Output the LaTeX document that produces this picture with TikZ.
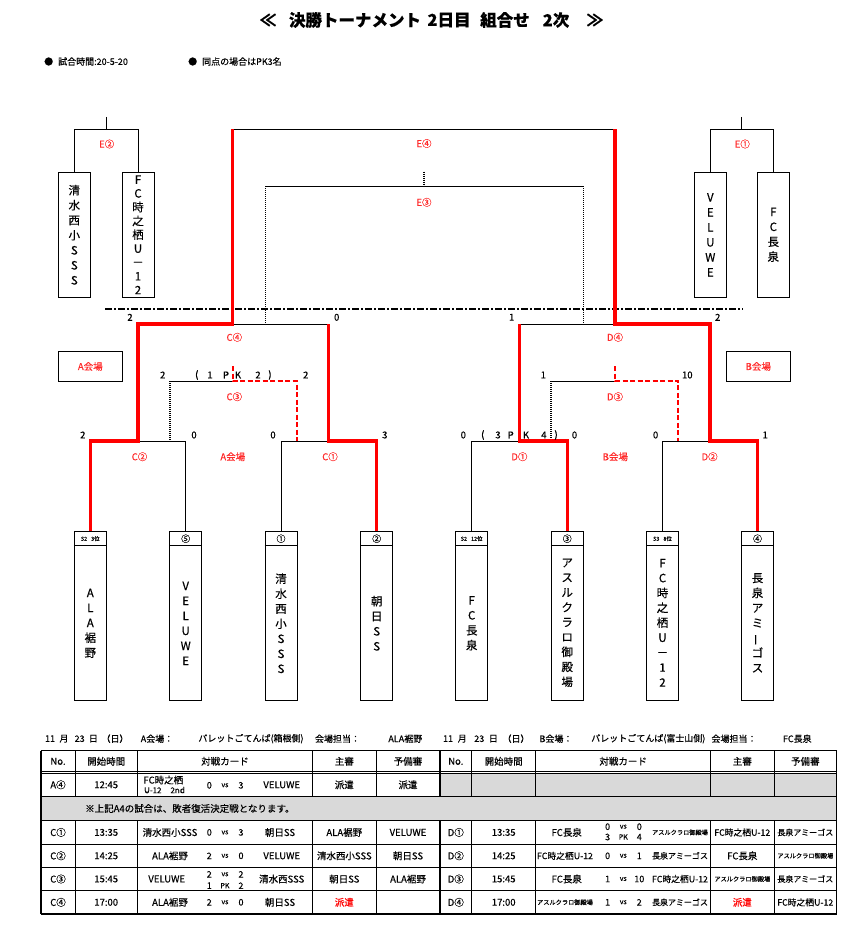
\documentclass[tikz,border=0pt]{standalone}
\usepackage{fontspec}
\setmainfont{Noto Sans CJK JP}[FakeBold=0.35]
\usepackage{graphicx}
\newcounter{nd}
\newcommand{\fsz}[2]{\fontsize{#1}{#2}\selectfont}
\newcommand{\T}[3][]{\stepcounter{nd}\node[txt,#1] (n\arabic{nd}) at (#2) {#3};}
\newcommand{\VS}[5]{\T[numf]{#1-15.7,#2}{#3}\T[vsf]{#1,#2}{#4}\T[numf]{#1+16,#2}{#5}}
\definecolor{cellgray}{HTML}{D9D9D9}
\definecolor{lblred}{HTML}{FF2A2A}
\tikzset{
 txt/.style={inner sep=0pt, font=\fsz{9.5}{10}},
 numf/.style={font=\fsz{9}{10}},
 vsf/.style={font=\fsz{7}{8}},
 mid/.style={font=\fsz{8.8}{10}},
 small/.style={font=\fsz{8}{9}},
 tiny/.style={font=\fsz{6.2}{7}},
 thinl/.style={draw=black, line width=0.8pt},
 redl/.style={draw=red, line width=3.4pt, line join=miter},
 redd/.style={draw=red, line width=1.8pt, dash pattern=on 5pt off 2.5pt},
 dotl/.style={draw=black, line width=1.4pt, dash pattern=on 1pt off 1pt},
 dashdotl/.style={draw=black, line width=1.8pt, dash pattern=on 7pt off 2pt on 2pt off 2pt},
 lbl/.style={txt, text=lblred, font=\fsz{9.5}{10}},
 sc/.style={txt, font=\fsz{9.5}{10}},
 tbox/.style={draw, line width=0.9pt, inner sep=0pt, minimum width=32pt, minimum height=125pt, align=center, font=\fsz{11.5}{15}},
 bbox/.style={draw, line width=0.9pt, inner sep=0pt, minimum width=32pt, minimum height=169.3pt},
 vtext/.style={inner sep=0pt, align=center, font=\fsz{11.5}{15}},
 hdr/.style={inner sep=0pt, font=\fsz{9}{9}},
 hdrs/.style={inner sep=0pt, font=\fsz{5.5}{6}},
 venue/.style={draw, line width=0.9pt, minimum width=64pt, minimum height=29.3pt, inner sep=0pt, text=lblred, font=\fsz{9.5}{10}},
 thinrule/.style={draw=black, line width=0.6pt},
 thickrule/.style={draw=black, line width=1.4pt},
 ttlf/.style={txt, font=\fsz{16.5}{17}\bfseries},
 headf/.style={txt, font=\fsz{9}{10}},
}
\begin{document}
\begin{tikzpicture}[x=1pt,y=-1pt]
\useasboundingbox (0,0) rectangle (863,928);
\fill[white] (0,0) rectangle (863,928);

% ---------- title and notes
\node[ttlf] (ttl1) at (268,20) {≪};
\node[ttlf] (ttl2) at (355,20) {決勝トーナメント};
\node[ttlf] (ttl3) at (449,20) {2日目};
\node[ttlf] (ttl4) at (505,20) {組合せ};
\node[ttlf] (ttl5) at (556,20) {2次};
\node[ttlf] (ttl6) at (595,20) {≫};
\node[txt, anchor=west, font=\fsz{9}{9}] (note1) at (44,61.5) {●\hspace{5pt}試合時間:20-5-20};
\node[txt, anchor=west, font=\fsz{9}{9}] (note2) at (188,61.5) {●\hspace{5pt}同点の場合はPK3名};

% ---------- top boxes
\node[tbox] (t1) at (74.3,234.8) {清\\水\\西\\小\\S\\S\\S};
\node[tbox, font=\fsz{11.5}{13.8}] (t2) at (138,234.8) {F\\C\\時\\之\\栖\\U\\－\\1\\2};
\node[tbox] (t3) at (710.3,234.8) {V\\E\\L\\U\\W\\E};
\node[tbox] (t4) at (773.3,234.8) {F\\C\\長\\泉};

% ---------- bottom boxes
\foreach \nm/\x in {b1/90.3,b2/185.7,b3/281,b4/376.7,b5/471.7,b6/567.2,b7/662.5,b8/757.5}{
  \node[bbox] (\nm) at (\x,615.65) {};
  \draw[line width=0.9pt] ([yshift=-15.3pt]\nm.north west) -- ([yshift=-15.3pt]\nm.north east);
}
\node[hdrs] (h1) at (90.3,538.7) {S2\hspace{4pt}3位};
\node[hdr] (h2) at (185.7,538.7) {⑤};
\node[hdr] (h3) at (281,538.7) {①};
\node[hdr] (h4) at (376.7,538.7) {②};
\node[hdrs] (h5) at (471.7,538.7) {S2\hspace{4pt}12位};
\node[hdr] (h6) at (567.2,538.7) {③};
\node[hdrs] (h7) at (662.5,538.7) {S3\hspace{4pt}8位};
\node[hdr] (h8) at (757.5,538.7) {④};
\node[vtext] (v1) at (90.3,623.3) {A\\L\\A\\裾\\野};
\node[vtext] (v2) at (185.7,623.3) {V\\E\\L\\U\\W\\E};
\node[vtext] (v3) at (281,623.3) {清\\水\\西\\小\\S\\S\\S};
\node[vtext] (v4) at (376.7,623.3) {朝\\日\\S\\S};
\node[vtext] (v5) at (471.7,623.3) {F\\C\\長\\泉};
\node[vtext, font=\fsz{11.5}{14.9}] (v6) at (567.2,622.8) {ア\\ス\\ル\\ク\\ラ\\ロ\\御\\殿\\場};
\node[vtext, font=\fsz{11.5}{14.9}] (v7) at (662.5,622.8) {F\\C\\時\\之\\栖\\U\\－\\1\\2};
\node[vtext] (v8) at (757.5,622.8) {長\\泉\\ア\\ミ\\\rotatebox[origin=c]{90}{ー}\\ゴ\\ス};

% ---------- venue boxes
\node[venue] (va) at (90.3,366.4) {A会場};
\node[venue] (vb) at (758.3,366.4) {B会場};

% ---------- bracket coordinates
\coordinate (e2s) at (106.7,117);
\coordinate (e2m) at (106.7,129.3);
\coordinate (e2l) at (74.3,129.3);
\coordinate (e2r) at (138,129.3);
\coordinate (e1s) at (741.5,117);
\coordinate (e1m) at (741.5,129.3);
\coordinate (e1l) at (710.3,129.3);
\coordinate (e1r) at (773.3,129.3);
\coordinate (e4l) at (232.7,129.3);
\coordinate (e4r) at (615,129.3);
\coordinate (e3s) at (424,171.7);
\coordinate (e3m) at (424,186.3);
\coordinate (e3l) at (265.3,186.3);
\coordinate (e3r) at (583.3,186.3);
\coordinate (e3lb) at (265.3,324);
\coordinate (e3rb) at (583.3,324);
\coordinate (ddl) at (105,309);
\coordinate (ddr) at (743.3,309);
\coordinate (c4l) at (138,324);
\coordinate (c4m) at (232.7,324);
\coordinate (c4r) at (328.7,324);
\coordinate (d4l) at (519.4,324);
\coordinate (d4m) at (615,324);
\coordinate (d4r) at (710,324);
\coordinate (c3s) at (232.7,366);
\coordinate (c3m) at (232.7,381);
\coordinate (c3l) at (170,381);
\coordinate (c3r) at (296.6,381);
\coordinate (c3lb) at (170,441);
\coordinate (c3rb) at (296.6,441);
\coordinate (d3s) at (615,366);
\coordinate (d3m) at (615,381);
\coordinate (d3l) at (551,381);
\coordinate (d3r) at (678.2,381);
\coordinate (d3lb) at (551,441);
\coordinate (d3rb) at (678.2,441);
\coordinate (c2l) at (90.3,441);
\coordinate (c2m) at (138,441);
\coordinate (c2r) at (185.7,441);
\coordinate (c1l) at (281,441);
\coordinate (c1m) at (328.7,441);
\coordinate (c1r) at (376.7,441);
\coordinate (d1l) at (471.7,441);
\coordinate (d1m) at (519.4,441);
\coordinate (d1r) at (567.2,441);
\coordinate (d2l) at (662.5,441);
\coordinate (d2m) at (710,441);
\coordinate (d2r) at (757.5,441);

% ---------- black bracket lines
\draw[thinl] (e2s) -- (e2m);
\draw[thinl] (t1.north) -- (e2l) -- (e2r) -- (t2.north);
\draw[thinl] (e1s) -- (e1m);
\draw[thinl] (t3.north) -- (e1l) -- (e1r) -- (t4.north);
\draw[thinl] (e4l) -- (e4r);
\draw[thinl] (e3l) -- (e3r);
\draw[thinl] (c4m) -- (c4r);
\draw[thinl] (d4l) -- (d4m);
\draw[thinl] (c3l) -- (c3m);
\draw[thinl] (d3l) -- (d3m);
\draw[thinl] (c2m) -- (c2r) -- (b2.north);
\draw[thinl] (b3.north) -- (c1l) -- (c1m);
\draw[thinl] (b5.north) -- (d1l) -- (d1m);
\draw[thinl] (b7.north) -- (d2l) -- (d2m);
\draw[dashdotl] (ddl) -- (ddr);
\draw[dotl] (e3s) -- (e3m);
\draw[dotl] (e3l) -- (e3lb);
\draw[dotl] (e3r) -- (e3rb);
\draw[dotl] (c3l) -- (c3lb);
\draw[dotl] (d3l) -- (d3lb);

% ---------- red lines
\draw[redd] (c3s) -- (c3m) -- (c3r) -- (c3rb);
\draw[redd] (d3s) -- (d3m) -- (d3r) -- (d3rb);
\draw[redl] (b1.north) -- (c2l) -- (c2m) -- (c4l) -- (c4m) -- (e4l);
\draw[redl] (b4.north) -- (c1r) -- (c1m) -- (c4r);
\draw[redl] (b6.north) -- (d1r) -- (d1m) -- (d4l);
\draw[redl] (b8.north) -- (d2r) -- (d2m) -- (d4r) -- (d4m) -- (e4r);

% ---------- match labels
\node[lbl] (le2) at (106.7,144) {E②};
\node[lbl] (le1) at (742.3,144) {E①};
\node[lbl] (le4) at (424,143.5) {E④};
\node[lbl] (le3) at (424,202.3) {E③};
\node[lbl] (lc4) at (234.3,337.3) {C④};
\node[lbl] (ld4) at (615,337.3) {D④};
\node[lbl] (lc3) at (234.3,396.7) {C③};
\node[lbl] (ld3) at (615,396.7) {D③};
\node[lbl] (lc2) at (139.5,456.7) {C②};
\node[lbl] (lc1) at (330,456.7) {C①};
\node[lbl] (ld1) at (519.4,456.7) {D①};
\node[lbl] (ld2) at (709.6,456.7) {D②};
\node[lbl] (lva) at (232.8,456.7) {A会場};
\node[lbl] (lvb) at (615.3,456.7) {B会場};

% ---------- scores
\foreach \x/\y/\s [count=\i] in {130/317.3/2, 336.7/317.3/0, 511.7/317.3/1, 717.7/317.3/2,
  162.7/375/2, 196.7/375/(, 210/375/1, 226/375/P, 238/375/K, 258/375/2, 270/375/), 305.7/375/2,
  543.3/375/1, 687.3/375/10,
  82.8/435/2, 194/435/0, 273/435/0, 384.8/435/3, 463.3/435/0, 482.7/435/(, 498/435/3, 510.7/435/P,
  526/435/K, 543.9/435/4, 556.1/435/), 574.5/435/0, 655.6/435/0, 765.2/435/1}{
  \node[sc] (sc\i) at (\x,\y) {\s};
}

% ---------- table headings
\foreach \x/\s [count=\i] in {50/11, 64/月, 79.7/23, 93.3/日, 115/（日）, 157/A会場：, 251/パレットごてんば(箱根側), 337.5/会場担当：, 405.3/ALA裾野,
  448/11, 462.3/月, 479.3/23, 493.3/日, 516/（日）, 556/B会場：, 648.3/パレットごてんば(富士山側), 734/会場担当：, 797.3/FC長泉}{
  \node[headf] (hd\i) at (\x,738.7) {\s};
}

% ---------- table grid
\fill[cellgray] (440,773.3) rectangle (836.7,796.3);
\fill[cellgray] (41,796.3) rectangle (836.7,820.5);
\foreach \y in {771.3,773.3,796.3,820.5,844.3,867.3,890.7}{
  \draw[thinrule] (41,\y) -- (836.7,\y);
}
\draw[thickrule] (41,750.7) -- (836.7,750.7);
\draw[thickrule] (41,914) -- (836.7,914);
\foreach \x in {75,137.3,312.7,376,471.7,535.7,710.7,774}{
  \draw[thinrule] (\x,750.7) -- (\x,796.3);
  \draw[thinrule] (\x,820.5) -- (\x,914);
}
\draw[thickrule] (440,750.7) -- (440,796.3);
\draw[thickrule] (440,820.5) -- (440,914);
\draw[thickrule] (41,750.7) -- (41,914);
\draw[thickrule] (836.7,750.7) -- (836.7,914);

% ---------- table header rows
\T{58,761.3}{No.}\T{106.2,761.3}{開始時間}\T{225,761.3}{対戦カード}\T{344.3,761.3}{主審}\T{408,761.3}{予備審}
\T{455.8,761.3}{No.}\T{503.7,761.3}{開始時間}\T{623.2,761.3}{対戦カード}\T{742.3,761.3}{主審}\T{805.3,761.3}{予備審}

% A4 row
\T{58,784.8}{A④}\T{106.2,784.8}{12:45}
\T{163.3,780}{FC時之栖}\T[small]{164.5,790}{U-12\hspace{9pt}2nd}
\VS{225}{785.3}{0}{vs}{3}
\T{281.7,784.8}{VELUWE}\T{344.3,784.8}{派遣}\T{408,784.8}{派遣}
\T[anchor=west, font=\fsz{9.5}{10}]{85,808.5}{※上記A4の試合は、敗者復活決定戦となります。}

% C rows
\T{58,832.4}{C①}\T{106.2,832.4}{13:35}\T{170,832.4}{清水西小SSS}\VS{225}{832.4}{0}{vs}{3}\T{280,832.4}{朝日SS}\T{344.3,832.4}{ALA裾野}\T{408,832.4}{VELUWE}
\T{58,855.8}{C②}\T{106.2,855.8}{14:25}\T{170,855.8}{ALA裾野}\VS{225}{855.8}{2}{vs}{0}\T{281.7,855.8}{VELUWE}\T{344.3,855.8}{清水西小SSS}\T{408,855.8}{朝日SS}
\T{58,879}{C③}\T{106.2,879}{15:45}\T{166.7,879}{VELUWE}\VS{225}{874.3}{2}{vs}{2}\VS{225}{885.7}{1}{PK}{2}\T{281.7,879}{清水西SSS}\T{344.3,879}{朝日SS}\T{408,879}{ALA裾野}
\T{58,902.3}{C④}\T{106.2,902.3}{17:00}\T{170,902.3}{ALA裾野}\VS{225}{902.3}{2}{vs}{0}\T{280,902.3}{朝日SS}\T[text=red]{344.3,902.3}{派遣}

% D rows
\T{455.8,832.4}{D①}\T{503.7,832.4}{13:35}\T{566.7,832.4}{FC長泉}\VS{623.3}{826.7}{0}{vs}{0}\VS{623.3}{837}{3}{PK}{4}\T[tiny]{680,832.4}{アスルクラロ御殿場}\T[mid]{742.3,832.4}{FC時之栖U-12}\T[small]{805.3,832.4}{長泉アミーゴス}
\T{455.8,855.8}{D②}\T{503.7,855.8}{14:25}\T[mid]{565,855.8}{FC時之栖U-12}\VS{623.3}{855.8}{0}{vs}{1}\T[small]{680,855.8}{長泉アミーゴス}\T{742.3,855.8}{FC長泉}\T[tiny]{805.3,855.8}{アスルクラロ御殿場}
\T{455.8,879}{D③}\T{503.7,879}{15:45}\T{566.7,879}{FC長泉}\VS{623.3}{879}{1}{vs}{10}\T[mid]{680,879}{FC時之栖U-12}\T[tiny]{742.3,879}{アスルクラロ御殿場}\T[small]{805.3,879}{長泉アミーゴス}
\T{455.8,902.3}{D④}\T{503.7,902.3}{17:00}\T[tiny]{565,902.3}{アスルクラロ御殿場}\VS{623.3}{902.3}{1}{vs}{2}\T[small]{680,902.3}{長泉アミーゴス}\T[text=red]{742.3,902.3}{派遣}\T[mid]{805.3,902.3}{FC時之栖U-12}
\end{tikzpicture}
\end{document}
